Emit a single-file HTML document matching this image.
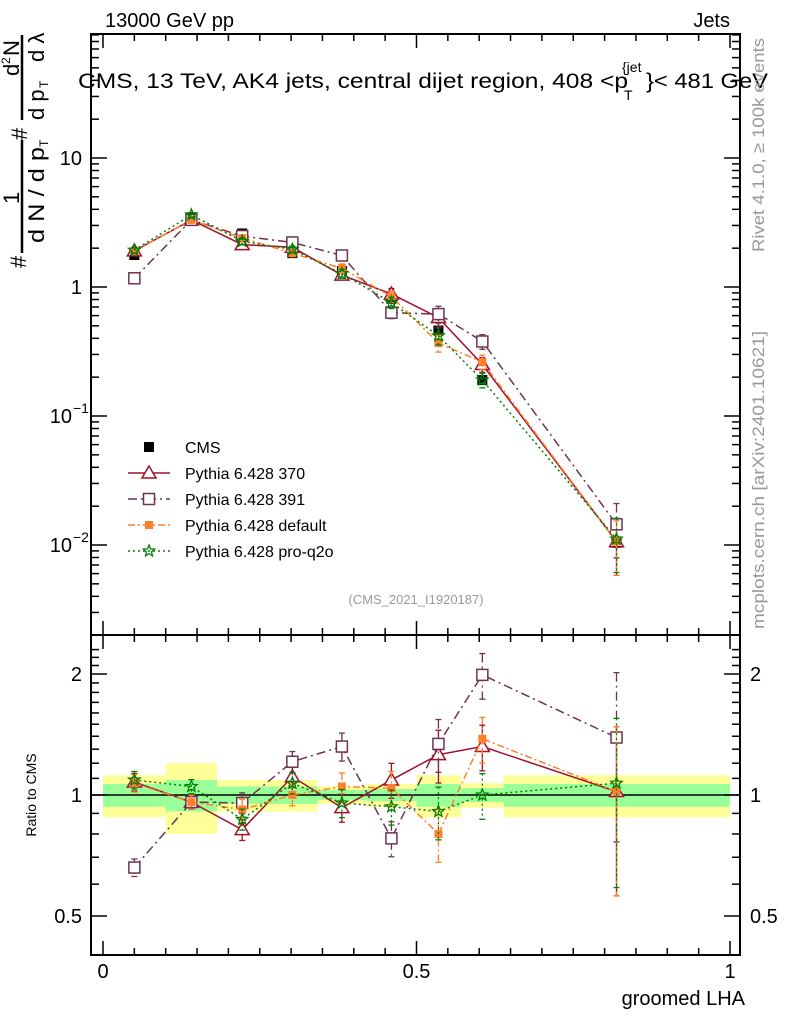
<!DOCTYPE html>
<html><head><meta charset="utf-8">
<style>
body{margin:0;background:#fff;}
svg{display:block;font-family:"Liberation Sans",sans-serif;}
</style></head>
<body>
<svg id="chart" width="786" height="1024" viewBox="0 0 786 1024">
<g id="bands"></g>
<g id="axes"></g>
<g id="series"></g>
<text x="105" y="27" font-size="20">13000 GeV pp</text>
<text x="730" y="27" font-size="20" text-anchor="end">Jets</text>
<text x="78" y="88" font-size="21" textLength="550" lengthAdjust="spacingAndGlyphs">CMS, 13 TeV, AK4 jets, central dijet region, 408 &lt;p</text>
<text x="622" y="72" font-size="14">{jet</text>
<text x="624" y="100" font-size="14">T</text>
<text x="646" y="88" font-size="21" textLength="122" lengthAdjust="spacingAndGlyphs">}&lt; 481 GeV</text>
<text x="416" y="604" font-size="13" fill="#999" text-anchor="middle">(CMS_2021_I1920187)</text>
<text transform="translate(764,145) rotate(-90)" font-size="17" fill="#999" text-anchor="middle" textLength="214" lengthAdjust="spacingAndGlyphs">Rivet 4.1.0, ≥ 100k events</text>
<text transform="translate(764,480) rotate(-90)" font-size="17" fill="#999" text-anchor="middle" textLength="298" lengthAdjust="spacingAndGlyphs">mcplots.cern.ch [arXiv:2401.10621]</text>
<g font-size="22">
<text transform="translate(26,268) rotate(-90)">#</text>
<line x1="22" y1="140" x2="22" y2="253" stroke="#000" stroke-width="2.5"/>
<text transform="translate(19,204) rotate(-90)">1</text>
<text transform="translate(44,243) rotate(-90)" textLength="96" lengthAdjust="spacingAndGlyphs">d N / d p</text>
<text transform="translate(48,147) rotate(-90)" font-size="12">T</text>
<text transform="translate(27,140) rotate(-90)">#</text>
<line x1="22" y1="35" x2="22" y2="120" stroke="#000" stroke-width="2.5"/>
<text transform="translate(19,76) rotate(-90)">d</text>
<text transform="translate(10,64) rotate(-90)" font-size="12">2</text>
<text transform="translate(19,56) rotate(-90)">N</text>
<text transform="translate(44,120) rotate(-90)">d p</text>
<text transform="translate(48,88) rotate(-90)" font-size="12">T</text>
<text transform="translate(44,62) rotate(-90)">d λ</text>
</g>
<text transform="translate(36,795) rotate(-90)" font-size="14" text-anchor="middle">Ratio to CMS</text>
<text x="745" y="1005" font-size="20" text-anchor="end">groomed LHA</text>
<g id="legend"></g>
</svg>
<script>
const binEdges=[0,0.1,0.182,0.263,0.342,0.421,0.5,0.571,0.639,1.0];
const xCenters=[0.05,0.141,0.222,0.302,0.381,0.46,0.535,0.605,0.819];
const cmsValues=[1.77,3.45,2.6,1.83,1.33,0.81,0.46,0.19,0.0104];
const bandYellow=[0.12,0.2,0.09,0.09,0.05,0.065,0.12,0.07,0.12];
const bandGreen=[0.065,0.09,0.05,0.05,0.03,0.035,0.065,0.04,0.065];
const ratio370=[1.077,0.96,0.82,1.11,0.93,1.09,1.26,1.32,1.02];
const ratio391=[0.66,0.96,0.955,1.21,1.32,0.78,1.34,1.99,1.39];
const ratioDefault=[1.07,0.96,0.92,1.0,1.05,1.04,0.80,1.38,1.02];
const ratioProQ2o=[1.09,1.05,0.87,1.07,0.955,0.935,0.91,1.0,1.07];
const relErr=[0.05,0.04,0.06,0.06,0.08,0.1,0.15,0.13,0.45];
const ns="http://www.w3.org/2000/svg";
const L=91,R=740,T=34,MB=635,B=955;
const X=v=>103+v*627;
const Y=v=>287-129*Math.log10(v);
const YR=r=>795-121*Math.log2(r);
function mk(tag,attrs,parent){const e=document.createElementNS(ns,tag);for(const k in attrs)e.setAttribute(k,attrs[k]);parent.appendChild(e);return e;}
const axes=document.getElementById('axes'),bands=document.getElementById('bands'),series=document.getElementById('series'),legend=document.getElementById('legend');
for(let i=0;i<cmsValues.length;i++){
 const x1=X(binEdges[i]),x2=X(binEdges[i+1]);
 const y=mk('rect',{x:x1,y:YR(1+bandYellow[i]),width:x2-x1,height:YR(1-bandYellow[i])-YR(1+bandYellow[i]),fill:'#ffff99'},bands);
 
 const g=mk('rect',{x:x1,y:YR(1+bandGreen[i]),width:x2-x1,height:YR(1-bandGreen[i])-YR(1+bandGreen[i]),fill:'#99ff99'},bands);
 
}
mk('line',{x1:L,x2:R,y1:YR(1),y2:YR(1),stroke:'#000','stroke-width':1.5},axes);
mk('rect',{x:L,y:T,width:R-L,height:MB-T,fill:'none',stroke:'#000','stroke-width':2},axes);
mk('rect',{x:L,y:MB,width:R-L,height:B-MB,fill:'none',stroke:'#000','stroke-width':2},axes);
for(let k=0;k<=20;k++){const v=k*0.05,x=X(v),len=(k%10==0)?14:7;
 [[T,1],[MB,-1],[MB,1],[B,-1]].forEach(([y0,d])=>mk('line',{x1:x,x2:x,y1:y0,y2:y0+d*len,stroke:'#000','stroke-width':1.5},axes));}
[['0',0],['0.5',0.5],['1',1]].forEach(([t,v])=>{const e=mk('text',{x:X(v),y:978,'font-size':20,'text-anchor':'middle'},axes);e.textContent=t;});
for(let d=-3;d<=1;d++)for(let m=1;m<=9;m++){const v=m*Math.pow(10,d),y=Y(v);if(y<T||y>MB)continue;const len=m==1?16:8;
 mk('line',{x1:L,x2:L+len,y1:y,y2:y,stroke:'#000','stroke-width':1.5},axes);mk('line',{x1:R,x2:R-len,y1:y,y2:y,stroke:'#000','stroke-width':1.5},axes);}
[[10,'10',''],[1,'1',''],[0.1,'10','−1'],[0.01,'10','−2']].forEach(([v,b,s])=>{const e=mk('text',{x:s?72:82,y:Y(v)+7,'font-size':20,'text-anchor':'end'},axes);e.textContent=b;
 if(s){const t=mk('text',{x:73,y:Y(v)-3,'font-size':14},axes);t.textContent=s;}});
const rt=[0.4,0.5,0.6,0.7,0.8,0.9,1,1.1,1.2,1.3,1.4,1.5,1.6,1.7,1.8,1.9,2,2.1,2.2,2.3];
rt.forEach(r=>{const y=YR(r);if(y<MB||y>B)return;const len=(r==0.5||r==1||r==2)?16:8;
 mk('line',{x1:L,x2:L+len,y1:y,y2:y,stroke:'#000','stroke-width':1.5},axes);mk('line',{x1:R,x2:R-len,y1:y,y2:y,stroke:'#000','stroke-width':1.5},axes);});
[[2,'2'],[1,'1'],[0.5,'0.5']].forEach(([r,t])=>{let e=mk('text',{x:82,y:YR(r)+7,'font-size':20,'text-anchor':'end'},axes);e.textContent=t;
 e=mk('text',{x:750,y:YR(r)+7,'font-size':20},axes);e.textContent=t;});
function marker(type,x,y,col,p){
 if(type=='sq')return mk('rect',{x:x-5,y:y-5,width:10,height:10,fill:col},p);
 if(type=='tri')return mk('polygon',{points:`${x},${y-7} ${x-7},${y+5} ${x+7},${y+5}`,fill:'#fff',stroke:col,'stroke-width':1.5},p);
 if(type=='osq')return mk('rect',{x:x-5.5,y:y-5.5,width:11,height:11,fill:'#fff',stroke:col,'stroke-width':1.5},p);
 if(type=='fsq')return mk('rect',{x:x-4,y:y-4,width:8,height:8,fill:col},p);
 if(type=='star'){let pts=[];for(let i=0;i<10;i++){const a=-Math.PI/2+i*Math.PI/5,r=i%2?2.6:6;pts.push((x+r*Math.cos(a)).toFixed(1)+','+(y+r*Math.sin(a)).toFixed(1));}
  return mk('polygon',{points:pts.join(' '),fill:'none',stroke:col,'stroke-width':1.3},p);}
}
const mcs=[
 {name:'Pythia 6.428 370',r:ratio370,col:'#a0102a',m:'tri',dash:''},
 {name:'Pythia 6.428 391',r:ratio391,col:'#6e3350',m:'osq',dash:'9,4,2,4'},
 {name:'Pythia 6.428 default',r:ratioDefault,col:'#ff7f2a',m:'fsq',dash:'7,3,2,3'},
 {name:'Pythia 6.428 pro-q2o',r:ratioProQ2o,col:'#008000',m:'star',dash:'2,3'}];
const cg=mk('g',{},series);
xCenters.forEach((x,i)=>{const s=marker('sq',X(x),Y(cmsValues[i]),'#000',cg);});
mcs.forEach((s,si)=>{
 const g=mk('g',{},series);
 const vals=s.r.map((r,i)=>r*cmsValues[i]);
 const pm=xCenters.map((x,i)=>X(x)+','+Y(vals[i])).join(' ');
 const pr=xCenters.map((x,i)=>X(x)+','+YR(s.r[i])).join(' ');
 mk('polyline',{points:pm,fill:'none',stroke:s.col,'stroke-width':1.5,'stroke-dasharray':s.dash},g);
 mk('polyline',{points:pr,fill:'none',stroke:s.col,'stroke-width':1.5,'stroke-dasharray':s.dash},g);
 xCenters.forEach((x,i)=>{const e=relErr[i];
  [[Y(vals[i]*(1+e)),Y(vals[i]*(1-e))],[YR(s.r[i]*(1+e)),YR(s.r[i]*(1-e))]].forEach(([a,b])=>{
   mk('line',{x1:X(x),x2:X(x),y1:a,y2:b,stroke:s.col,'stroke-width':1.3,'stroke-dasharray':s.dash},g);
   mk('line',{x1:X(x)-3,x2:X(x)+3,y1:a,y2:a,stroke:s.col,'stroke-width':1.3},g);
   mk('line',{x1:X(x)-3,x2:X(x)+3,y1:b,y2:b,stroke:s.col,'stroke-width':1.3},g);});
  const p1=marker(s.m,X(x),Y(vals[i]),s.col,g);
  const p2=marker(s.m,X(x),YR(s.r[i]),s.col,g);
 });
});
const lg=[{name:'CMS',col:'#000',m:'sq',dash:null}].concat(mcs);
lg.forEach((s,i)=>{const y=447+i*26;
 const g=mk('g',{},legend);
 if(s.dash!==null)mk('line',{x1:128,x2:170,y1:y,y2:y,stroke:s.col,'stroke-width':1.5,'stroke-dasharray':s.dash},g);
 marker(s.m,149,y,s.col,g);
 const t=mk('text',{x:185,y:y+6,'font-size':16},g);t.textContent=s.name;});
</script>
</body></html>
